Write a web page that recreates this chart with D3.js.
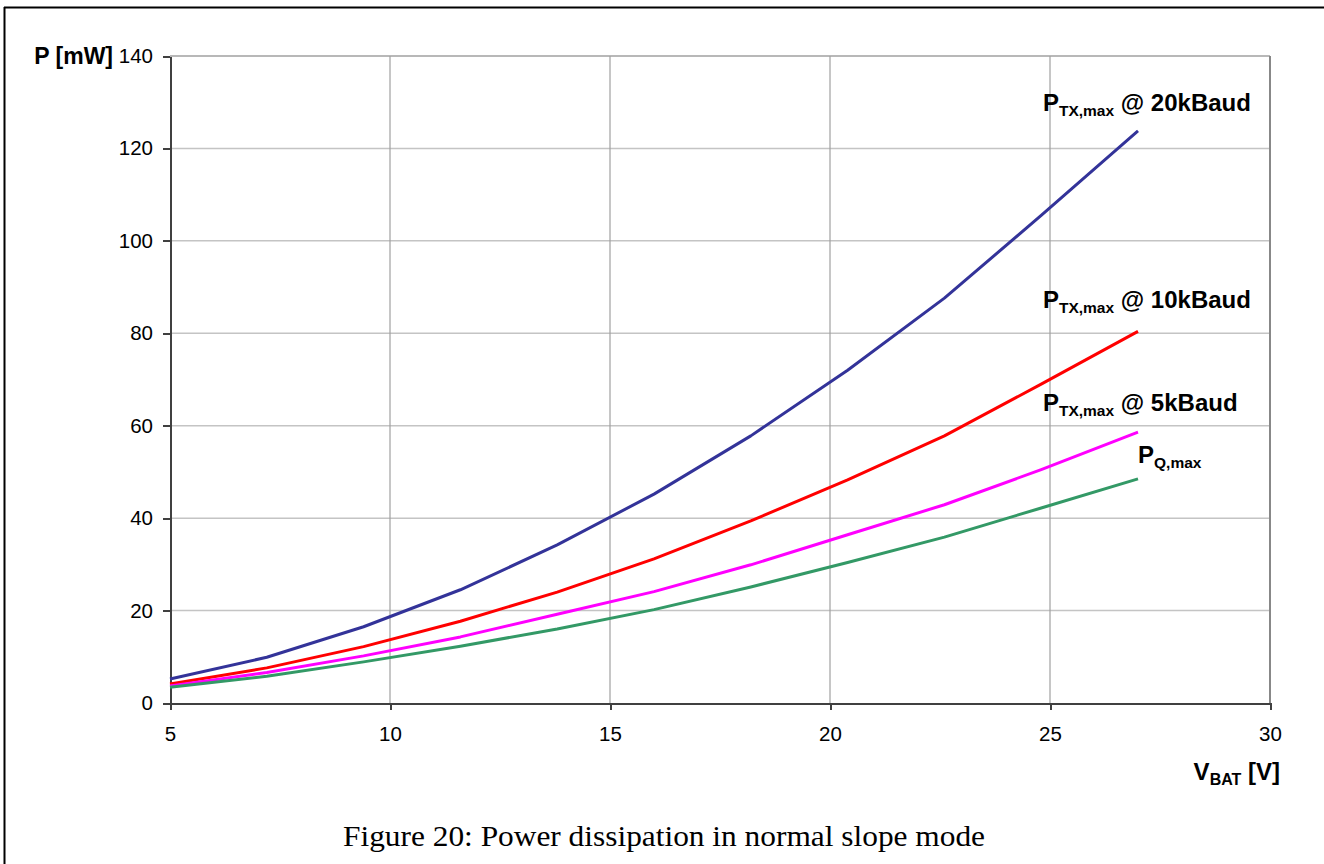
<!DOCTYPE html>
<html lang="en">
	<head>
		<meta charset="utf-8">
		<title>Power dissipation</title>
		<script type="text/javascript" src="https://d3js.org/d3.v7.min.js"></script>
		<style type="text/css">
			body { margin: 0; background: white; }
			.axis path, .axis line { fill: none; stroke: #404040; stroke-width: 2; shape-rendering: crispEdges; }
			.axis text { font-family: "Liberation Sans", Arial, sans-serif; font-size: 20.5px; fill: black; }
			.lbl { font-family: "Liberation Sans", Arial, sans-serif; font-weight: bold; fill: black; }
			.caption { font-family: "Liberation Serif", "DejaVu Serif", serif; font-size: 30px; fill: black; }
		</style>
	</head>
	<body>
	<script type="text/javascript">

		var w = 1324;
		var h = 864;

		// data
		var vbat = [5, 7.2, 9.4, 11.6, 13.8, 16, 18.2, 20.4, 22.6, 24.8, 27];
		var p20k = [5.2, 9.9, 16.5, 24.5, 34.2, 45.2, 57.8, 72.0, 87.6, 105.5, 123.8];
		var p10k = [4.1, 7.6, 12.2, 17.7, 24.0, 31.2, 39.4, 48.3, 57.8, 69.0, 80.4];
		var p5k = [3.7, 6.6, 10.2, 14.3, 19.2, 24.1, 29.9, 36.4, 42.9, 50.5, 58.6];
		var pq = [3.4, 5.8, 8.9, 12.3, 16.0, 20.2, 25.1, 30.4, 35.9, 42.2, 48.5];

		var xTicks = [5, 10, 15, 20, 25, 30];
		var yTicks = [0, 20, 40, 60, 80, 100, 120, 140];

		var seriesNames = ["TX,max", "TX,max", "TX,max", "Q,max"];
		var seriesTail = [" @ 20kBaud", " @ 10kBaud", " @ 5kBaud", ""];
		var seriesColors = ["#333399", "#ff0000", "#ff00ff", "#339966"];
		var labelX = [24.84, 24.84, 24.84, 27.0];
		var labelY = [128.1, 85.5, 63.2, 51.9];

		var series = [p20k, p10k, p5k, pq];

		var pLeft = 170, pRight = 1270, pTop = 56, pBottom = 703;

		var xScale = d3.scaleLinear().domain([5, 30]).range([pLeft, pRight]);
		var yScale = d3.scaleLinear().domain([0, 140]).range([pBottom, pTop]);

		var svg = d3.select("body").append("svg").attr("width", w).attr("height", h);

		// page frame
		svg.append("line").attr("x1", 4).attr("x2", w).attr("y1", 7.5).attr("y2", 7.5)
		   .attr("stroke", "black").attr("stroke-width", 2);
		svg.append("line").attr("x1", 4.5).attr("x2", 4.5).attr("y1", 7).attr("y2", h)
		   .attr("stroke", "black").attr("stroke-width", 2);

		// grid
		svg.append("g").selectAll("line").data(yTicks.slice(1, -1)).enter().append("line")
		   .attr("x1", pLeft).attr("x2", pRight)
		   .attr("y1", function(d) { return yScale(d); }).attr("y2", function(d) { return yScale(d); })
		   .attr("stroke", "#c4c4c4").attr("stroke-width", 1.5);
		svg.append("g").selectAll("line").data(xTicks.slice(1, -1)).enter().append("line")
		   .attr("x1", function(d) { return xScale(d); }).attr("x2", function(d) { return xScale(d); })
		   .attr("y1", pTop).attr("y2", pBottom)
		   .attr("stroke", "#a0a0a0").attr("stroke-width", 1.2);
		// top and right border of plot area
		svg.append("line").attr("x1", pLeft).attr("x2", pRight).attr("y1", yScale(140)).attr("y2", yScale(140))
		   .attr("stroke", "#a0a0a0").attr("stroke-width", 1.5);
		svg.append("line").attr("x1", xScale(30)).attr("x2", xScale(30)).attr("y1", pTop).attr("y2", pBottom)
		   .attr("stroke", "#888888").attr("stroke-width", 2);

		// axes
		var xAxis = d3.axisBottom(xScale).tickValues(xTicks).tickSizeInner(7).tickSizeOuter(0).tickPadding(16);
		var yAxis = d3.axisLeft(yScale).tickValues(yTicks).tickSizeInner(7).tickSizeOuter(0).tickPadding(10);
		svg.append("g").attr("class", "axis").attr("transform", "translate(0," + pBottom + ")").call(xAxis);
		svg.append("g").attr("class", "axis").attr("transform", "translate(" + pLeft + ",0)").call(yAxis);

		// lines
		var line = d3.line()
			.x(function(d, i) { return xScale(vbat[i]); })
			.y(function(d) { return yScale(d); });

		svg.append("g").selectAll("path").data(series).enter().append("path")
		   .attr("d", line)
		   .attr("fill", "none")
		   .attr("stroke", function(d, i) { return seriesColors[i]; })
		   .attr("stroke-width", 3)
		   .attr("stroke-linejoin", "round");

		// series labels
		series.forEach(function(s, i) {
			var t = svg.append("text").attr("class", "lbl")
				.attr("x", xScale(labelX[i])).attr("y", yScale(labelY[i]))
				.style("font-size", "24px");
			t.append("tspan").text("P");
			t.append("tspan").attr("dy", 5).style("font-size", "15.5px").text(seriesNames[i]);
			if (seriesTail[i]) t.append("tspan").attr("dy", -5).text(seriesTail[i]);
		});

		// axis titles
		svg.append("text").attr("class", "lbl").attr("x", 113).attr("y", 64)
		   .attr("text-anchor", "end").style("font-size", "23px").text("P [mW]");

		var xt = svg.append("text").attr("class", "lbl").attr("x", 1280).attr("y", 780)
		   .attr("text-anchor", "end").style("font-size", "24px");
		xt.append("tspan").text("V");
		xt.append("tspan").attr("dy", 5).style("font-size", "16px").text("BAT");
		xt.append("tspan").attr("dy", -5).text(" [V]");

		// caption
		svg.append("text").attr("class", "caption").attr("x", 343).attr("y", 846)
		   .attr("textLength", 642).attr("lengthAdjust", "spacingAndGlyphs")
		   .text("Figure 20: Power dissipation in normal slope mode");

	</script>
	</body>
</html>
